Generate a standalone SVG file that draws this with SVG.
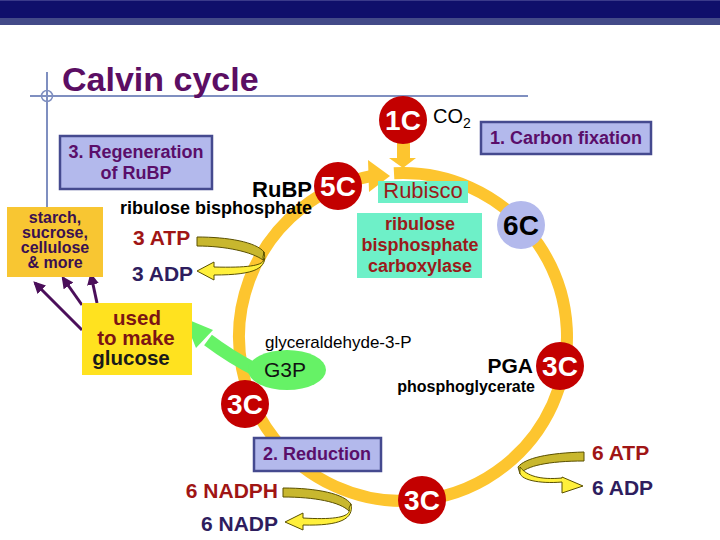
<svg xmlns="http://www.w3.org/2000/svg" width="720" height="540" viewBox="0 0 720 540">
<style>
text{font-family:"Liberation Sans",Arial,sans-serif}
.b{font-weight:bold}
.stage rect{fill:#B3B9EC;stroke:#454A8F;stroke-width:2.5}
.stage text{fill:#5A0E6A;font-size:18px;font-weight:bold;text-anchor:middle}
.red circle{fill:#C30000}
.red text{fill:#fff;font-size:28px;font-weight:bold;text-anchor:middle}
.atp{fill:#A01515;font-size:21px;font-weight:bold}
.adp{fill:#2E1D5E;font-size:21px;font-weight:bold}
.olive{fill:#C8B72E;stroke:#5A5000;stroke-width:1}
.yel{fill:#FFF03C;stroke:#5A5000;stroke-width:1}
.enz{fill:#9A1B1B}
.pl{stroke:#4B0F5A;stroke-width:3;fill:none;marker-end:url(#ph)}
</style>
<defs>
<marker id="ph" viewBox="0 0 10 10" refX="8" refY="5" markerWidth="4" markerHeight="4" orient="auto">
<path d="M0,0 L10,5 L0,10 Z" fill="#4B0F5A"/>
</marker>
</defs>
<rect width="720" height="540" fill="#fff"/>
<g id="header">
<rect x="0" y="0" width="720" height="18" fill="#0F0F6B"/>
<rect x="0" y="0" width="720" height="1" fill="#3A3A8A"/>
<rect x="0" y="18" width="720" height="7" fill="#434A88"/>
<line x1="30" y1="96" x2="528" y2="96" stroke="#7F8FC0" stroke-width="2"/>
<line x1="47" y1="72" x2="47" y2="212" stroke="#7F8FC0" stroke-width="2"/>
<circle cx="47" cy="96" r="5.5" fill="none" stroke="#7F8FC0" stroke-width="1.5"/>
<text x="62" y="91" class="b" font-size="34" fill="#5B0E63">Calvin cycle</text>
</g>
<g id="connectors">
<path d="M394,173.25 A164,164 0 1 1 372,175.96" fill="none" stroke="#FDC52F" stroke-width="12"/>
<polygon points="368,160 390,176 369,192" fill="#FDC52F"/>
<path d="M397,143 H410 V158 H416 L403,168 L389,158 H397 Z" fill="#FDC52F"/>
<path d="M258,371 Q232,358 208,340" fill="none" stroke="#66F266" stroke-width="13"/>
<polygon points="184,318 213,330 196,348" fill="#66F266"/>
<path class="pl" d="M82,330 L35,283"/>
<path class="pl" d="M82,305 L63,278"/>
<path class="pl" d="M97,303 L91,275"/>
</g>
<g id="atp3">
<path class="olive" d="M197,237 C228,237 256,242 264,252 L263,260 C252,252 226,246 197,246 Z"/>
<path class="yel" d="M263,257 C267,265 252,268 214,267 L214,262 L197,271 L214,280 L214,275 C256,275 268,268 264,252 Z"/>
<text x="133" y="245" class="atp">3 ATP</text>
<text x="132" y="281" class="adp">3 ADP</text>
</g>
<g id="atp6">
<path class="olive" d="M584,452 C548,453 525,458 518,467 L520,474 C526,466 548,461 584,461 Z"/>
<path class="yel" d="M520,471 C518,480 540,484 562,482 L562,493 L583,486 L562,477 L562,478 C540,480 527,476 520,467 Z"/>
<text x="592" y="460" class="atp">6 ATP</text>
<text x="592" y="495" class="adp">6 ADP</text>
</g>
<g id="nadph">
<path class="olive" d="M283,488 C318,488 344,494 351,504 L349,511 C340,502 315,497 283,497 Z"/>
<path class="yel" d="M349,508 C352,517 335,520 303,518 L303,513 L285,522 L303,530 L303,525 C340,526 354,519 351,504 Z"/>
<text x="278" y="498" class="atp" text-anchor="end">6 NADPH</text>
<text x="278" y="531" class="adp" text-anchor="end">6 NADP</text>
</g>
<g id="stage3" class="stage">
<rect x="60" y="136" width="152" height="53"/>
<text x="136" y="158">3. Regeneration</text>
<text x="136" y="179">of RuBP</text>
</g>
<g id="stage1" class="stage">
<rect x="481" y="122" width="170" height="32"/>
<text x="566" y="144">1. Carbon fixation</text>
</g>
<g id="stage2" class="stage">
<rect x="254" y="438" width="127" height="33"/>
<text x="317" y="460">2. Reduction</text>
</g>
<g id="starch">
<rect x="7" y="207" width="96" height="70" fill="#F8C632"/>
<g class="b" font-size="16" fill="#3A1050" text-anchor="middle">
<text x="55" y="223">starch,</text>
<text x="55" y="238">sucrose,</text>
<text x="55" y="253">cellulose</text>
<text x="55" y="268">&amp; more</text>
</g>
</g>
<g id="glucose">
<rect x="82" y="303" width="110" height="72" fill="#FFE21F"/>
<g class="b" font-size="20.5" text-anchor="middle">
<text x="137" y="325" fill="#7B1414">used</text>
<text x="136" y="345" fill="#7B1414">to make</text>
<text x="131" y="365" fill="#1A1A1A">glucose</text>
</g>
</g>
<g id="rubisco">
<rect x="378" y="181" width="90" height="22" fill="#6EF0C8"/>
<text x="423" y="198" font-size="22" text-anchor="middle" class="enz">Rubisco</text>
<rect x="357" y="213" width="125" height="65" fill="#6EF0C8"/>
<g class="b enz" font-size="18" text-anchor="middle">
<text x="420" y="230">ribulose</text>
<text x="420" y="251">bisphosphate</text>
<text x="420" y="272">carboxylase</text>
</g>
</g>
<g id="g3p">
<ellipse cx="287" cy="370" rx="39" ry="20" fill="#66F266"/>
<text x="285" y="377" font-size="21" text-anchor="middle" fill="#111">G3P</text>
<text x="265" y="348" font-size="17" fill="#000">glyceraldehyde-3-P</text>
</g>
<g id="rubp">
<text x="312" y="197" class="b" font-size="22" text-anchor="end">RuBP</text>
<text x="312" y="214" class="b" font-size="18" text-anchor="end">ribulose bisphosphate</text>
</g>
<g id="pga">
<text x="533" y="373" class="b" font-size="21" text-anchor="end">PGA</text>
<text x="535" y="392" class="b" font-size="16" text-anchor="end">phosphoglycerate</text>
</g>
<g id="co2">
<text x="433" y="123" font-size="20">CO</text>
<text x="463" y="128" font-size="14">2</text>
</g>
<g id="c1" class="red"><circle cx="403" cy="120" r="24"/><text x="403" y="130">1C</text></g>
<g id="c5" class="red"><circle cx="338" cy="186" r="24"/><text x="338" y="196">5C</text></g>
<g id="c6"><circle cx="521" cy="225" r="24" fill="#B3B9EC"/><text x="521" y="235" class="b" font-size="28" text-anchor="middle">6C</text></g>
<g id="c3a" class="red"><circle cx="560" cy="366" r="24"/><text x="560" y="376">3C</text></g>
<g id="c3b" class="red"><circle cx="422" cy="500" r="24"/><text x="422" y="510">3C</text></g>
<g id="c3c" class="red"><circle cx="245" cy="404" r="24"/><text x="245" y="414">3C</text></g>
</svg>
